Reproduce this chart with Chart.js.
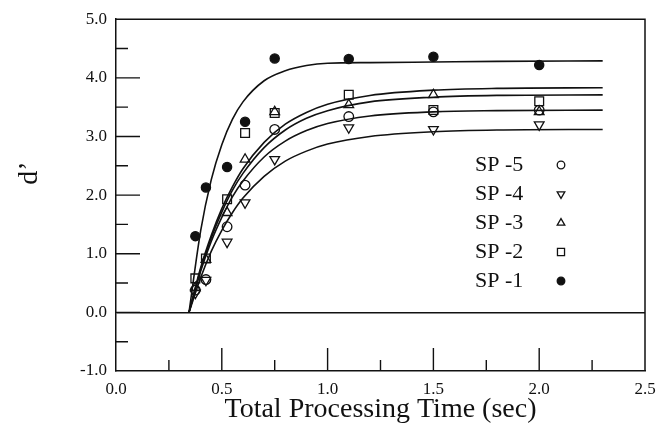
<!DOCTYPE html>
<html>
<head>
<meta charset="utf-8">
<script src="https://cdn.jsdelivr.net/npm/chart.js@4.4.1/dist/chart.umd.min.js"></script>
<style>
  html, body { margin:0; padding:0; background:#fff; }
  #wrap { width:667px; height:426px; }
</style>
</head>
<body>
<div id="wrap"><canvas id="myChart" width="667" height="426"></canvas></div>
<script>
// measured points (d' at each processing time)
const times = [0.375, 0.425, 0.525, 0.61, 0.75, 1.1, 1.5, 2.0];
const sp1 = [1.30, 2.13, 2.48, 3.25, 4.33, 4.32, 4.36, 4.22];
const sp2 = [0.58, 0.92, 1.93, 3.06, 3.40, 3.71, 3.45, 3.60];
const sp3 = [0.42, 0.90, 1.70, 2.61, 3.42, 3.54, 3.71, 3.42];
const sp4 = [0.33, 0.55, 1.20, 1.87, 2.61, 3.15, 3.12, 3.20];
const sp5 = [0.38, 0.56, 1.46, 2.17, 3.12, 3.34, 3.42, 3.45];

// fitted curves
const fitTimes = [0.345, 0.40, 0.45, 0.50, 0.55, 0.60, 0.70, 0.80, 0.90, 1.0, 1.2, 1.5, 1.8, 2.3];
const fit1 = [0, 1.39, 2.26, 2.86, 3.29, 3.59, 3.95, 4.12, 4.21, 4.25, 4.26, 4.27, 4.28, 4.29];
const fit2 = [0, 0.76, 1.31, 1.77, 2.14, 2.45, 2.90, 3.21, 3.41, 3.55, 3.70, 3.79, 3.82, 3.83];
const fit3 = [0, 0.73, 1.27, 1.71, 2.08, 2.37, 2.81, 3.11, 3.31, 3.44, 3.59, 3.67, 3.70, 3.71];
const fit4 = [0, 0.59, 1.04, 1.40, 1.70, 1.95, 2.32, 2.58, 2.75, 2.87, 3.00, 3.08, 3.11, 3.12];
const fit5 = [0, 0.70, 1.21, 1.62, 1.97, 2.24, 2.65, 2.92, 3.10, 3.22, 3.35, 3.42, 3.44, 3.45];

const legendNames = ["SP -5", "SP -4", "SP -3", "SP -2", "SP -1"];

const ink = "#111";
const serif = "'Liberation Serif', 'DejaVu Serif', serif";

function pts(xs, ys) {
  return xs.map((x, i) => ({x: x, y: ys[i]}));
}

function curve(ys) {
  return {
    data: pts(fitTimes, ys),
    showLine: true,
    borderColor: ink,
    borderWidth: 1.6,
    pointRadius: 0,
    cubicInterpolationMode: "monotone",
    fill: false
  };
}

const markers = {
  "SP -5": {pointStyle: "circle", radius: 4.8, rotation: 0, fill: "rgba(0,0,0,0)", legendRadius: 3.8},
  "SP -4": {pointStyle: "triangle", radius: 5.6, rotation: 180, fill: "rgba(0,0,0,0)", legendRadius: 4.4},
  "SP -3": {pointStyle: "triangle", radius: 5.6, rotation: 0, fill: "rgba(0,0,0,0)", legendRadius: 4.4},
  "SP -2": {pointStyle: "rect", radius: 6.2, rotation: 0, fill: "rgba(0,0,0,0)", legendRadius: 5},
  "SP -1": {pointStyle: "circle", radius: 4.6, rotation: 0, fill: ink, legendRadius: 3.8}
};

function scatter(name, ys) {
  const m = markers[name];
  return {
    label: name,
    data: pts(times, ys),
    showLine: false,
    pointStyle: m.pointStyle,
    pointRadius: m.radius,
    pointRotation: m.rotation,
    pointBackgroundColor: m.fill,
    pointBorderColor: ink,
    pointBorderWidth: 1.3
  };
}

const frame = {
  id: "frame",
  afterDraw(chart) {
    const {ctx, chartArea: a, scales: {x, y}} = chart;
    ctx.save();
    ctx.strokeStyle = ink;
    ctx.lineWidth = 1.5;
    ctx.beginPath();
    ctx.moveTo(a.left, a.top);
    ctx.lineTo(a.right, a.top);
    ctx.lineTo(a.right, a.bottom);
    ctx.stroke();

    // ticks pointing inward
    ctx.lineWidth = 1.4;
    ctx.beginPath();
    y.ticks.forEach(t => {
      if (t.value <= y.min || t.value >= y.max) return;
      const py = y.getPixelForValue(t.value);
      const len = Number.isInteger(t.value) ? 24 : 12;
      ctx.moveTo(a.left, py);
      ctx.lineTo(a.left + len, py);
    });
    x.ticks.forEach(t => {
      if (t.value <= x.min || t.value >= x.max) return;
      const px = x.getPixelForValue(t.value);
      const major = Math.abs(t.value * 2 - Math.round(t.value * 2)) < 1e-9;
      ctx.moveTo(px, a.bottom);
      ctx.lineTo(px, a.bottom - (major ? 23 : 11));
    });
    ctx.stroke();

    // y title
    ctx.fillStyle = ink;
    ctx.font = "28px " + serif;
    ctx.textAlign = "center";
    ctx.textBaseline = "middle";
    ctx.translate(30, 173);
    ctx.rotate(-Math.PI / 2);
    ctx.fillText("d\u2019", 0, 0);
    ctx.restore();

    // legend inside the plot
    ctx.save();
    ctx.font = "22px " + serif;
    ctx.textAlign = "left";
    ctx.textBaseline = "middle";
    legendNames.forEach((name, i) => {
      const rowY = 165 + i * 29;
      const m = markers[name];
      ctx.fillStyle = ink;
      ctx.fillText(name, 475, rowY);
      ctx.fillStyle = m.fill;
      ctx.strokeStyle = ink;
      ctx.lineWidth = 1.3;
      Chart.helpers.drawPoint(ctx, {
        pointStyle: m.pointStyle,
        radius: m.legendRadius,
        rotation: m.rotation,
        borderWidth: 1.3
      }, 561, rowY);
    });
    ctx.restore();
  }
};

new Chart("myChart", {
  type: "scatter",
  data: {
    datasets: [
      curve(fit1), curve(fit2), curve(fit3), curve(fit4), curve(fit5),
      scatter("SP -5", sp5),
      scatter("SP -4", sp4),
      scatter("SP -3", sp3),
      scatter("SP -2", sp2),
      scatter("SP -1", sp1)
    ]
  },
  options: {
    responsive: false,
    animation: false,
    devicePixelRatio: 1,
    layout: {padding: {top: 17, right: 22, left: 0, bottom: 0}},
    plugins: {legend: {display: false}, tooltip: {enabled: false}},
    scales: {
      x: {
        type: "linear",
        min: 0, max: 2.5,
        afterFit: s => { s.height = 55; },
        grid: {display: false, drawTicks: false},
        border: {display: true, color: ink, width: 1.5},
        ticks: {
          stepSize: 0.25,
          autoSkip: false,
          maxRotation: 0,
          padding: 8,
          color: ink,
          font: {family: serif, size: 17},
          callback: v => Math.abs(v * 2 - Math.round(v * 2)) < 1e-9 ? v.toFixed(1) : ""
        },
        title: {
          display: true,
          text: "Total Processing Time (sec)",
          color: ink,
          font: {family: serif, size: 28},
          padding: {top: 0, bottom: 0}
        }
      },
      y: {
        type: "linear",
        min: -1, max: 5,
        afterFit: s => { s.width = 116; },
        grid: {
          drawTicks: false,
          lineWidth: 1.5,
          color: c => (c.tick && c.tick.value === 0) ? ink : "rgba(0,0,0,0)"
        },
        border: {display: true, color: ink, width: 1.5},
        ticks: {
          stepSize: 0.5,
          autoSkip: false,
          padding: 9,
          color: ink,
          font: {family: serif, size: 17},
          callback: v => Number.isInteger(v) ? v.toFixed(1) : ""
        }
      }
    }
  },
  plugins: [frame]
});
</script>
</body>
</html>
